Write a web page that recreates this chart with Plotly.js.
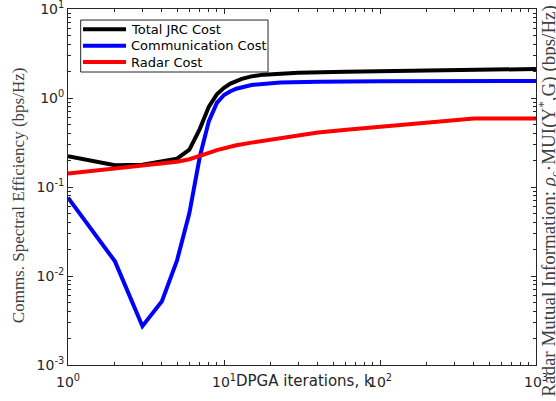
<!DOCTYPE html>
<html>
<head>
<meta charset="utf-8">
<script src="https://cdn.plot.ly/plotly-3.0.1.min.js"></script>
<style>html,body{margin:0;padding:0;background:#fff;}#chart{width:556px;height:401px;}</style>
</head>
<body>
<div id="chart"></div>
<script>
// ---- data ----
const seriesNames = ["Total JRC Cost", "Communication Cost", "Radar Cost"];
const seriesColors = ["#000000", "#0000ff", "#ff0000"];

const kTotal = [1, 2, 3, 4, 5, 6, 7, 8, 9, 10, 11, 13, 15, 18, 23, 30, 60, 100, 200, 400, 1000];
const totalCost = [0.222, 0.176, 0.178, 0.192, 0.208, 0.263, 0.45, 0.80, 1.10, 1.30, 1.45, 1.64, 1.75, 1.83, 1.87, 1.92, 1.97, 2.0, 2.05, 2.1, 2.12];

const kComm = [1, 2, 3, 4, 5, 6, 7, 8, 9, 10, 11, 12, 15, 23, 40, 100, 1000];
const commCost = [0.076, 0.0146, 0.00273, 0.0052, 0.015, 0.051, 0.22, 0.55, 0.88, 1.08, 1.19, 1.27, 1.40, 1.49, 1.52, 1.54, 1.55];

const kRadar = [1, 2, 3, 4, 5, 6, 7, 8, 9, 10, 12, 15, 23, 40, 61, 100, 164, 250, 400, 1000];
const radarCost = [0.142, 0.162, 0.172, 0.182, 0.192, 0.205, 0.222, 0.242, 0.26, 0.275, 0.295, 0.315, 0.356, 0.41, 0.44, 0.475, 0.52, 0.55, 0.59, 0.59];

const xTickVals = [1, 10, 100, 1000];
const xTickText = ["10<sup>0</sup>", "10<sup>1</sup>", "10<sup>2</sup>", "10<sup>3</sup>"];
const yTickVals = [0.001, 0.01, 0.1, 1, 10];
const yTickText = ["10<sup>-3</sup>", "10<sup>-2</sup>", "10<sup>-1</sup>", "10<sup>0</sup>", "10<sup>1</sup>"];

const xTitle = "DPGA iterations, k";
const yTitleLeft = "Comms. Spectral Efficiency (bps/Hz)";
const yTitleRight = "Radar Mutual Information: <i>ρ</i><sub>c</sub>·MUI(Y<sup>*</sup>,G) (bps/Hz)";

// minor tick positions (2..9 in each decade)
function minorTicks(lo, hi) {
  const out = [];
  for (let e = lo; e < hi; e++) {
    for (let m = 2; m <= 9; m++) out.push(m * Math.pow(10, e));
  }
  return out;
}

const axisColor = "#262626";
const tickFont = {family: "DejaVu Sans", size: 14, color: axisColor};

const traces = [
  {x: kTotal, y: totalCost, name: seriesNames[0], mode: "lines", line: {color: seriesColors[0], width: 4}},
  {x: kComm, y: commCost, name: seriesNames[1], mode: "lines", line: {color: seriesColors[1], width: 4}},
  {x: kRadar, y: radarCost, name: seriesNames[2], mode: "lines", line: {color: seriesColors[2], width: 4}}
];

const baseAxis = {
  type: "log",
  showline: true, linecolor: axisColor, linewidth: 1, mirror: "allticks",
  ticks: "inside", ticklen: 5, tickwidth: 1, tickcolor: axisColor,
  showgrid: false, zeroline: false,
  tickmode: "array", tickfont: tickFont, ticklabeloverflow: "allow",
  minor: {ticks: "inside", ticklen: 3, tickwidth: 1, tickcolor: axisColor, showgrid: false, tickmode: "array"}
};

// custom legend box (paper coordinates) – Plotly's legend rows are too tall
const legendBox = {x0: 0.0271, x1: 0.4274, y0: 0.823, y1: 0.969};
const legendRowsY = [0.943, 0.897, 0.851];
const legendLineX = [0.032, 0.124];
const legendTextX = 0.1303;

const shapes = [
  {type: "rect", xref: "paper", yref: "paper", x0: legendBox.x0, x1: legendBox.x1, y0: legendBox.y0, y1: legendBox.y1,
   line: {color: axisColor, width: 1}, fillcolor: "#ffffff", layer: "above"}
];
const annotations = [];
seriesNames.forEach((name, i) => {
  shapes.push({type: "line", xref: "paper", yref: "paper", x0: legendLineX[0], x1: legendLineX[1],
    y0: legendRowsY[i], y1: legendRowsY[i], line: {color: seriesColors[i], width: 4}, layer: "above"});
  annotations.push({text: name, xref: "paper", yref: "paper", x: legendTextX, y: legendRowsY[i],
    xanchor: "left", yanchor: "middle", showarrow: false,
    font: {family: "DejaVu Sans", size: 13, color: "#000000"}});
});

annotations.push(
  {text: xTitle, xref: "paper", yref: "paper", x: 0.506, y: -0.046, xanchor: "center", yanchor: "middle",
   showarrow: false, font: {family: "DejaVu Sans", size: 15, color: axisColor}},
  {text: yTitleLeft, xref: "paper", yref: "paper", x: -0.1055, y: 0.476, xanchor: "center", yanchor: "middle",
   textangle: -90, showarrow: false, font: {family: "Liberation Serif", size: 17, color: "#404040"}},
  {text: yTitleRight, xref: "paper", yref: "paper", x: 1.026, y: 0.462, xanchor: "center", yanchor: "middle",
   textangle: -90, showarrow: false, font: {family: "Liberation Serif", size: 19, color: "#404040"}}
);

const layout = {
  width: 556, height: 401,
  margin: {l: 68, r: 20, t: 9, b: 36},
  paper_bgcolor: "#ffffff", plot_bgcolor: "#ffffff",
  showlegend: false,
  xaxis: Object.assign({}, baseAxis, {
    range: [0, 3], tickvals: xTickVals, ticktext: xTickText, ticklabelstandoff: 4,
    minor: Object.assign({}, baseAxis.minor, {tickvals: minorTicks(0, 3)})
  }),
  yaxis: Object.assign({}, baseAxis, {
    range: [-3, 1], tickvals: yTickVals, ticktext: yTickText,
    minor: Object.assign({}, baseAxis.minor, {tickvals: minorTicks(-3, 1)})
  }),
  shapes: shapes,
  annotations: annotations
};

Plotly.newPlot("chart", traces, layout, {displayModeBar: false, staticPlot: true});
</script>
</body>
</html>
